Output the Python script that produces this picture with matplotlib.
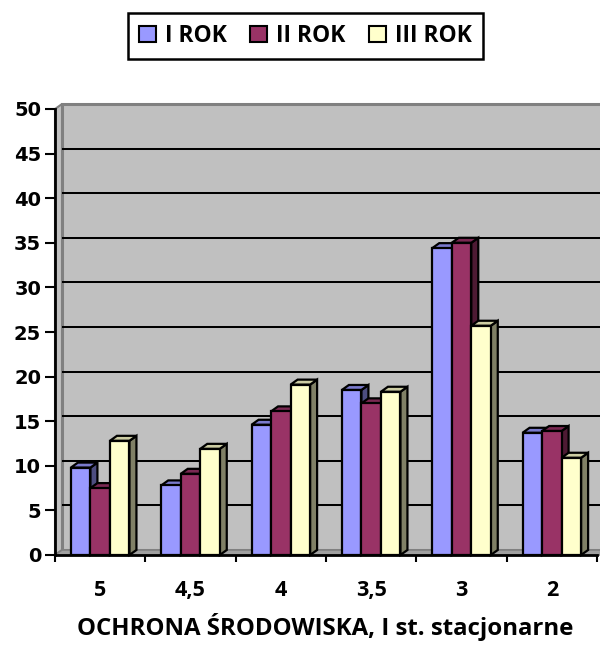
import matplotlib
matplotlib.use("Agg")
import matplotlib.pyplot as plt
from matplotlib.patches import Rectangle, Polygon, Patch
import numpy as np

# grades and the share of students (%) per year of study
grades = ["5", "4,5", "4", "3,5", "3", "2"]
series_names = ["I ROK", "II ROK", "III ROK"]
rok_1 = [9.8, 7.8, 14.6, 18.5, 34.4, 13.7]
rok_2 = [7.5, 9.1, 16.1, 17.0, 35.0, 13.9]
rok_3 = [12.8, 11.9, 19.1, 18.3, 25.7, 10.9]
y_ticks = list(range(0, 51, 5))

# front / top / side shades for the 3d look
front_colors = ["#9999FF", "#993366", "#FFFFCC"]
top_colors = ["#7A7ACC", "#7A2952", "#CCCCA3"]
side_colors = ["#4D4D80", "#4D1A33", "#808066"]

W, H, DPI = 600, 646, 100
fig = plt.figure(figsize=(W / DPI, H / DPI), dpi=DPI)

# axes box in pixels: x 55..597, y 109..555
ax_l, ax_r, ax_t, ax_b = 55, 597, 109, 555
ax = fig.add_axes([ax_l / W, (H - ax_b) / H, (ax_r - ax_l) / W, (ax_b - ax_t) / H])
n = len(grades)
ymax = 50
ax.set_xlim(0, n)
ax.set_ylim(0, ymax)
ax.set_facecolor("none")

px_x = (ax_r - ax_l) / n
px_y = (ax_b - ax_t) / ymax
DX = 7 / px_x   # depth offset in data units
DY = 5 / px_y
lw = 1.6

# back wall, side wall and floor
ax.add_patch(Rectangle((DX, DY), n + 1, ymax, facecolor="#C0C0C0", edgecolor="#808080",
                       lw=2.2, clip_on=False, zorder=0))
ax.add_patch(Polygon([(0, 0), (DX, DY), (DX, ymax + DY), (0, ymax)], closed=True,
                     facecolor="#C0C0C0", edgecolor="#808080", lw=1.5, clip_on=False, zorder=0.5))
for v in y_ticks[1:-1]:
    ax.plot([DX, n + 1], [v + DY, v + DY], color="black", lw=1.45, clip_on=False, zorder=0.6,
            solid_capstyle="butt")
ax.add_patch(Polygon([(0, 0), (n + 1, 0), (n + 1, DY), (DX, DY)], closed=True,
                     facecolor="#A0A0A0", edgecolor="#808080", lw=1.2, clip_on=False, zorder=0.7))

# 3d bars
series = [rok_1, rok_2, rok_3]
bw = 0.216
z = 1
for i in range(n):
    for j, vals in enumerate(series):
        v = vals[i]
        x0 = i + 0.5 - 1.5 * bw + j * bw
        x1 = x0 + bw
        ax.add_patch(Polygon([(x1, 0), (x1 + DX, DY), (x1 + DX, v + DY), (x1, v)], closed=True,
                             facecolor=side_colors[j], edgecolor="black", lw=lw,
                             joinstyle="miter", clip_on=False, zorder=z))
        ax.add_patch(Polygon([(x0, v), (x1, v), (x1 + DX, v + DY), (x0 + DX, v + DY)], closed=True,
                             facecolor=top_colors[j], edgecolor="black", lw=lw,
                             joinstyle="miter", clip_on=False, zorder=z))
        ax.add_patch(Rectangle((x0, 0), bw, v, facecolor=front_colors[j], edgecolor="black",
                               lw=lw, joinstyle="miter", clip_on=False, zorder=z))
        z += 0.01

# axes lines and ticks
for s in ["top", "right"]:
    ax.spines[s].set_visible(False)
for s in ["left", "bottom"]:
    ax.spines[s].set_linewidth(2)
    ax.spines[s].set_color("black")
    ax.spines[s].set_zorder(10)

ax.set_yticks(y_ticks)
ax.set_yticklabels([str(t) for t in y_ticks], fontfamily="DejaVu Sans", fontweight="bold",
                   fontsize=14)
ax.tick_params(axis="y", direction="out", length=7, width=1.5, pad=3, colors="black")

ax.set_xticks(np.arange(0, n + 1))
ax.set_xticklabels([])
ax.set_xticks(np.arange(n) + 0.5, minor=True)
ax.set_xticklabels(grades, minor=True, fontfamily="Open Sans", fontweight="bold", fontsize=15.5)
ax.tick_params(axis="x", which="major", direction="out", length=5, width=1.5)
ax.tick_params(axis="x", which="minor", length=0, pad=18)

fig.text(325.5 / W, 1 - 635 / H, "OCHRONA ŚRODOWISKA, I st. stacjonarne",
         ha="center", va="baseline", fontfamily="Open Sans", fontweight="bold", fontsize=17.3)

handles = [Patch(facecolor=c, edgecolor="black", lw=1.5) for c in front_colors]
leg = fig.legend(handles, series_names, ncol=3, loc="center",
                 bbox_to_anchor=(305.5 / W, 1 - 36 / H),
                 prop={"family": "Open Sans", "weight": "bold", "size": 16.5},
                 frameon=True, fancybox=False, framealpha=1, edgecolor="black",
                 handlelength=0.75, handleheight=0.75, handletextpad=0.4,
                 columnspacing=1.0, borderpad=0.5, borderaxespad=0)
leg.get_frame().set_linewidth(1.8)

fig.savefig("out.png", dpi=DPI)
